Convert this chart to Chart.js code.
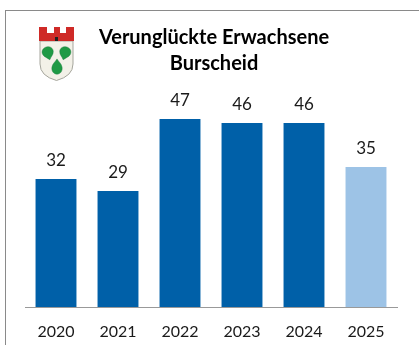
<!DOCTYPE html>
<html>
<head>
<meta charset="utf-8">
<script src="https://cdn.jsdelivr.net/npm/chart.js@4/dist/chart.umd.min.js"></script>
<style>
    html, body { margin: 0; padding: 0; background: #fff; overflow: hidden; }
    #wrap { position: relative; width: 419px; height: 345px; }
    #frame { position: absolute; left: 5px; top: 10px; right: 0; bottom: 0; border-left: 1px solid #8a8a8a; border-top: 1px solid #8a8a8a; }
    #chart { position: absolute; left: 0; top: 0; }
    #crest { position: absolute; left: 38px; top: 26px; }
</style>
</head>
<body>
<div id="wrap">
    <div id="frame"></div>
    <canvas id="chart" width="419" height="345"></canvas>
    <svg id="crest" width="38" height="56" viewBox="0 0 38 56">
        <defs>
            <path id="leaf" d="M0 -8 C5 -8 8 -4 7 0 C6 4 3 5 0 9 C-3 5 -6 4 -7 0 C-8 -4 -5 -8 0 -8 Z" fill="#1f9a45" stroke="#17793a" stroke-width="0.5"/>
        </defs>
        <path d="M2 15 H35 V38 Q35 50 18.5 54.5 Q2 50 2 38 Z" fill="#f3f1e8" stroke="#a5a59c" stroke-width="1"/>
        <path d="M1 1 H9 V7 H16 V1 H22 V7 H28 V1 H36 V15 H1 Z" fill="#cf2a27"/>
        <rect x="17" y="11" width="3" height="4" fill="#222"/>
        <use href="#leaf" transform="translate(10 27) rotate(-15) scale(0.78)"/>
        <use href="#leaf" transform="translate(27 27) rotate(15) scale(0.78)"/>
        <use href="#leaf" transform="translate(19 41) rotate(180) scale(0.72 0.9)"/>
    </svg>
</div>
<script>
const years = ['2020', '2021', '2022', '2023', '2024', '2025'];
const counts = [32, 29, 47, 46, 46, 35];
const barColors = ['#0060a8', '#0060a8', '#0060a8', '#0060a8', '#0060a8', '#9dc3e6'];
const titleLines = ['Verunglückte Erwachsene', 'Burscheid'];

// Werte über den Balken, Titel etwas nach rechts
const valueLabels = {
    id: 'valueLabels',
    afterLayout(chart) {
        chart.titleBlock.left += 3;
        chart.titleBlock.right += 3;
    },
    afterDatasetsDraw(chart) {
        const ctx = chart.ctx;
        ctx.save();
        ctx.font = '17px Lato';
        ctx.fillStyle = '#1a1a1a';
        ctx.textAlign = 'center';
        ctx.textBaseline = 'bottom';
        chart.getDatasetMeta(0).data.forEach((bar, i) => {
            ctx.fillText(counts[i], bar.x, bar.y - 10);
        });
        ctx.restore();
    }
};

new Chart(document.getElementById('chart').getContext('2d'), {
    type: 'bar',
    data: {
        labels: years,
        datasets: [{
            data: counts,
            backgroundColor: barColors,
            categoryPercentage: 1,
            barPercentage: 0.66
        }]
    },
    options: {
        responsive: false,
        animation: false,
        layout: { padding: { left: 25, right: 22, top: 25, bottom: 0 } },
        plugins: {
            legend: { display: false },
            tooltip: { enabled: false },
            title: {
                display: true,
                text: titleLines,
                color: '#000',
                font: { family: 'Lato', size: 20, weight: 'bold', lineHeight: 1.3 },
                padding: { top: 0, bottom: 0 }
            }
        },
        scales: {
            y: { display: false, min: 0, max: 57.5 },
            x: {
                afterFit(scale) { scale.height = 38; },
                grid: { display: false, drawTicks: false },
                border: { color: '#999999', width: 1 },
                ticks: { color: '#1a1a1a', font: { family: 'Lato', size: 16 }, padding: 15, maxRotation: 0 }
            }
        }
    },
    plugins: [valueLabels]
});
</script>
</body>
</html>
